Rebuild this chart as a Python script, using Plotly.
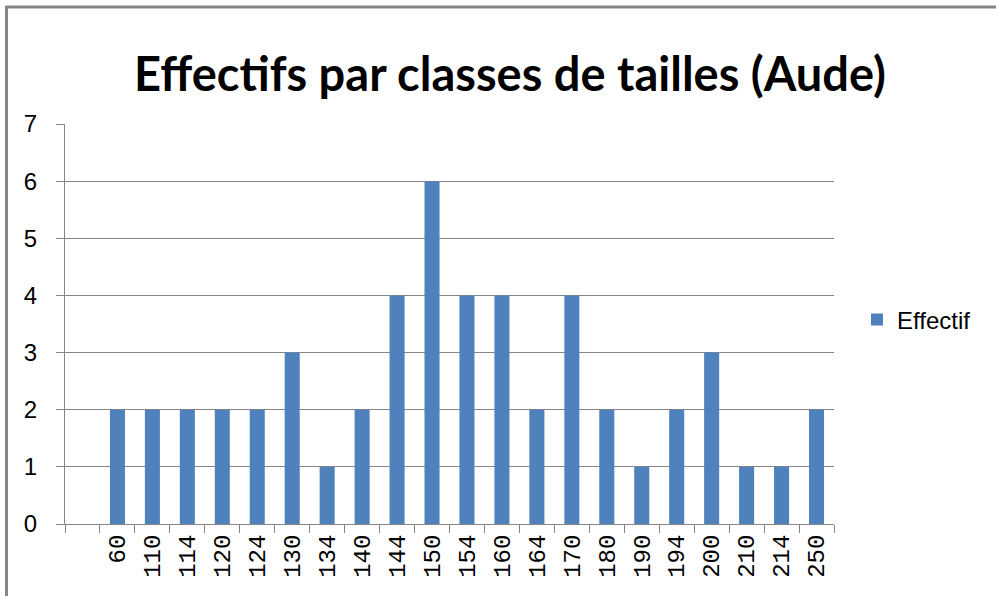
import plotly.graph_objects as go

categories = [" ", "60", "110", "114", "120", "124", "130", "134", "140", "144", "150",
              "154", "160", "164", "170", "180", "190", "194", "200", "210", "214", "250"]
effectif = [None, 2, 2, 2, 2, 2, 3, 1, 2, 4, 6, 4, 4, 2, 4, 2, 1, 2, 3, 1, 1, 2]
y_ticks = [0, 1, 2, 3, 4, 5, 6, 7]

W, H = 997, 596
L, R, T, B = 65, 163, 124, 72
pw, ph = W - L - R, H - T - B

def px(x):
    return (x - L) / pw

def py(y):
    return (H - B - y) / ph

fig = go.Figure()
fig.add_trace(go.Bar(
    x=categories, y=effectif, name="Effectif",
    marker=dict(color="#4f81bd", line=dict(width=0)),
    showlegend=True,
))

fig.update_layout(
    width=W, height=H,
    margin=dict(l=L, r=R, t=T, b=B),
    paper_bgcolor="white", plot_bgcolor="white",
    bargap=0.57,
    title=dict(text="<b>Effectifs par classes de tailles (Aude)</b>",
               x=px(510), xref="paper", xanchor="center",
               y=1 - 75 / H, yanchor="middle",
               font=dict(family="Lato", size=47, color="black")),
    showlegend=True,
    legend=dict(x=px(857), xanchor="left", y=py(320), yanchor="middle",
                font=dict(family="Liberation Sans", size=24, color="black"),
                bgcolor="rgba(0,0,0,0)", itemwidth=30),
    font=dict(family="Liberation Sans", color="black"),
)

fig.update_xaxes(
    type="category", categoryorder="array", categoryarray=categories,
    tickmode="array", tickvals=categories, ticktext=categories,
    tickson="boundaries", ticks="outside", ticklen=8, tickcolor="#868686",
    tickangle=-90, tickfont=dict(family="Liberation Mono", size=24, color="black"),
    showline=True, linecolor="#868686", linewidth=1,
    showgrid=False, range=[-0.5, 21.5], fixedrange=True,
)
fig.update_yaxes(
    range=[0, 7], tickmode="array", tickvals=y_ticks,
    ticks="outside", ticklen=8, tickcolor="#868686",
    tickfont=dict(family="Liberation Sans", size=24, color="black"),
    ticklabelstandoff=14,
    showline=True, linecolor="#868686", linewidth=1,
    showgrid=True, gridcolor="#868686", gridwidth=1,
    zeroline=False, fixedrange=True,
)

# outer chart border (left and top edges visible)
fig.add_shape(type="line", xref="paper", yref="paper",
              x0=px(6.5), x1=px(6.5), y0=py(7), y1=py(600),
              line=dict(color="#868686", width=3))
fig.add_shape(type="line", xref="paper", yref="paper",
              x0=px(5), x1=px(996), y0=py(7), y1=py(7),
              line=dict(color="#868686", width=3))

fig.write_html("out.html", config={"displayModeBar": False},
               post_script="document.body.style.margin='0';document.body.style.overflow='hidden';")
